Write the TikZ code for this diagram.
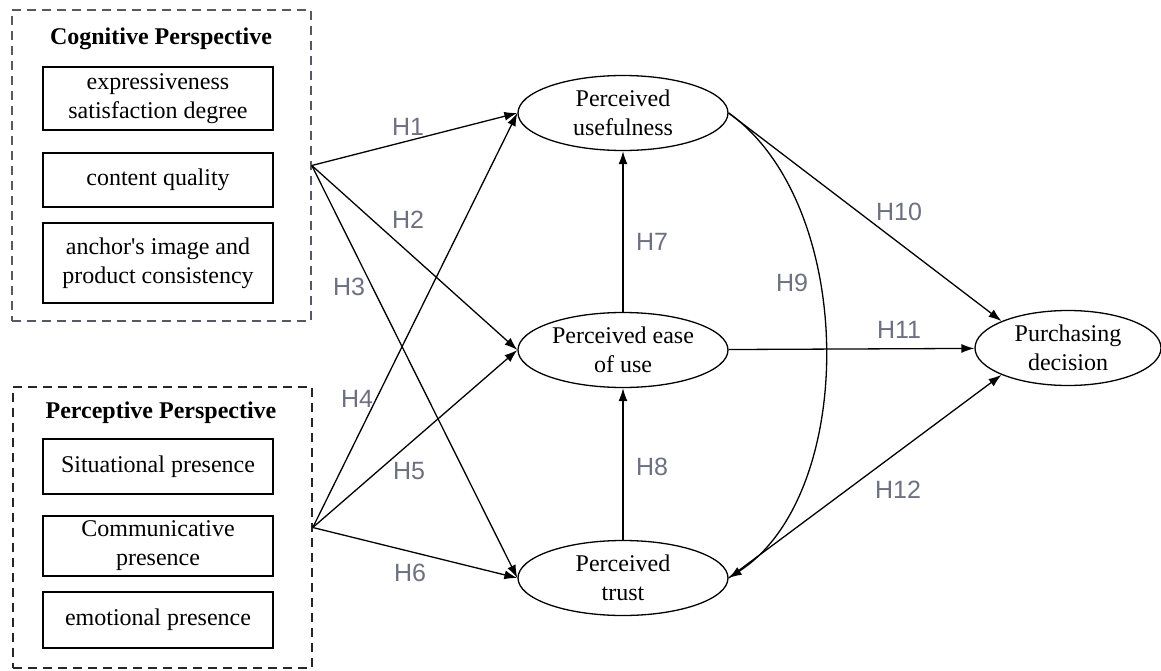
\documentclass[tikz,border=0pt]{standalone}
\usepackage{fontspec}
\setmainfont{Liberation Serif}
\newfontfamily\hfont{Liberation Sans}
\usetikzlibrary{arrows.meta,positioning,shapes.geometric}
\definecolor{hgray}{RGB}{108,112,128}
\definecolor{boxgray}{RGB}{85,89,100}

\tikzset{
    construct/.style={ellipse,draw,line width=1.3pt,minimum width=210pt,minimum height=75pt,inner sep=0pt,align=center},
    item/.style={rectangle,draw,line width=1.3pt,minimum width=230pt,inner sep=0pt,align=center},
    group/.style={rectangle,draw,line width=1.6pt,dash pattern=on 9pt off 6pt,minimum width=299pt},
    hyp/.style={font=\hfont\fontsize{25}{30}\selectfont,text=hgray},
    link/.style={-{Latex[length=13pt,width=9pt]},line width=1.3pt},
}

\begin{document}
\begin{tikzpicture}[x=1pt,y=-1pt,every node/.style={font=\fontsize{24}{29}\selectfont}]
    \useasboundingbox (0,0) rectangle (1161,671);

    % cognitive perspective
    \node[group,draw=boxgray,minimum height=311pt] (cog) at (161.5,165.5) {};
    \node (cogtitle) at (161,39) {\bfseries Cognitive Perspective};
    \node[item,minimum height=63pt] (expr) at (158,98.5) {expressiveness\\satisfaction degree};
    \node[item,minimum height=54pt] (quality) at (158,180) {content quality};
    \node[item,minimum height=80pt] (consist) at (158,263) {anchor\textquotesingle s image and\\product consistency};

    % perceptive perspective
    \node[group,draw=black!85,minimum height=281pt] (per) at (162.5,527.5) {};
    \node (pertitle) at (161,413) {\bfseries Perceptive Perspective};
    \node[item,minimum height=55pt] (situ) at (158,466.5) {Situational presence};
    \node[item,minimum height=60pt] (comm) at (158,546) {Communicative\\presence};
    \node[item,minimum height=56pt] (emo) at (158,620) {emotional presence};

    \node[construct] (pu) at (623,113) {Perceived\\usefulness};
    \node[construct] (peou) at (623,350) {Perceived ease\\of use};
    \node[construct] (pt) at (623,578) {Perceived\\trust};
    \node[construct,minimum width=186pt] (pd) at (1068,348) {Purchasing\\decision};

    \draw[link] (cog.east) -- (pu.west);
    \draw[link] (cog.east) -- (peou.west);
    \draw[link] (cog.east) -- (pt.west);
    \draw[link] (per.east) -- (pu.west);
    \draw[link] (per.east) -- (peou.west);
    \draw[link] (per.east) -- (pt.west);
    \draw[link] (peou) -- (pu);
    \draw[link] (pt) -- (peou);
    \draw[link] (pu.east) .. controls +(129,92) and +(129,-83) .. (pt.east);
    \draw[link] (pu.east) -- (pd.158);
    \draw[link] (peou) -- (pd);
    \draw[link] (pt.east) -- (pd.202);

    % hypotheses
    \node[hyp] (h1) at (408,127) {H1};
    \node[hyp] (h2) at (408,220) {H2};
    \node[hyp] (h3) at (349,287) {H3};
    \node[hyp] (h4) at (357,399) {H4};
    \node[hyp] (h5) at (409,471) {H5};
    \node[hyp] (h6) at (410,573) {H6};
    \node[hyp] (h7) at (652,242) {H7};
    \node[hyp] (h8) at (652,467) {H8};
    \node[hyp] (h9) at (792,283) {H9};
    \node[hyp] (h10) at (899,212) {H10};
    \node[hyp] (h11) at (899,330) {H11};
    \node[hyp] (h12) at (898,490) {H12};
\end{tikzpicture}
\end{document}
